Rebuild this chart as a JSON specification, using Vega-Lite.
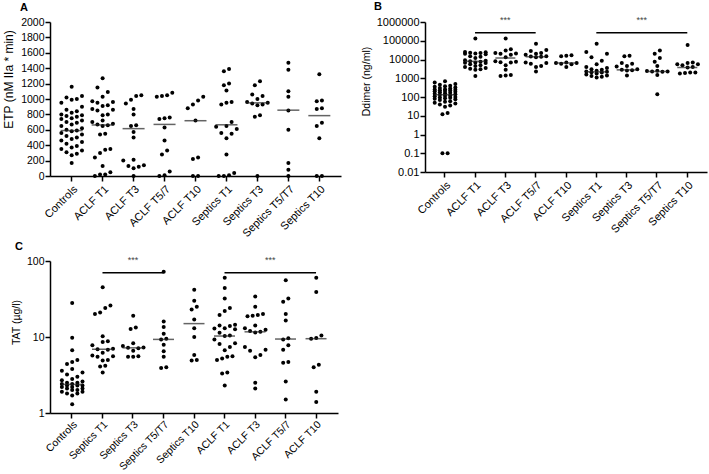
{
"$schema":"https://vega.github.io/schema/vega-lite/v6.json",
"padding":{"left":2,"top":0,"right":4,"bottom":0},
"bounds":"flush",
"columns":2,
"spacing":{"row":85,"column":84},
"config":{
 "font":"Liberation Sans",
 "view":{"stroke":null},
 "axis":{"domainColor":"#000","domainWidth":1.5,"tickColor":"#000","tickWidth":1.5,"tickSize":5,"labelColor":"#000","labelFontSize":11,"titleFontSize":11,"titleFontWeight":"normal","titleColor":"#000","grid":false,"labelPadding":1},
 "axisY":{"labelFontSize":10.5,"labelOverlap":false,"labelFlush":false},
 "axisX":{"labelAngle":-45,"title":null,"labelPadding":2},
 "title":{"fontSize":11,"fontWeight":"bold","anchor":"start","frame":"group","color":"#000","offset":4}
},
"datasets":{
 "a_pts":[
  {"g":"Controls","v":1160},{"g":"Controls","v":1040},{"g":"Controls","v":1020},{"g":"Controls","v":1000},{"g":"Controls","v":990},{"g":"Controls","v":950},{"g":"Controls","v":900},{"g":"Controls","v":860},{"g":"Controls","v":840},{"g":"Controls","v":820},{"g":"Controls","v":800},{"g":"Controls","v":790},{"g":"Controls","v":780},{"g":"Controls","v":770},{"g":"Controls","v":750},{"g":"Controls","v":740},{"g":"Controls","v":720},{"g":"Controls","v":700},{"g":"Controls","v":690},{"g":"Controls","v":670},{"g":"Controls","v":650},{"g":"Controls","v":620},{"g":"Controls","v":600},{"g":"Controls","v":590},{"g":"Controls","v":580},{"g":"Controls","v":560},{"g":"Controls","v":540},{"g":"Controls","v":520},{"g":"Controls","v":500},{"g":"Controls","v":480},{"g":"Controls","v":460},{"g":"Controls","v":440},{"g":"Controls","v":420},{"g":"Controls","v":390},{"g":"Controls","v":370},{"g":"Controls","v":350},{"g":"Controls","v":330},{"g":"Controls","v":310},{"g":"Controls","v":290},{"g":"Controls","v":270},{"g":"Controls","v":170},
  {"g":"ACLF T1","v":1270},{"g":"ACLF T1","v":1150},{"g":"ACLF T1","v":1090},{"g":"ACLF T1","v":1030},{"g":"ACLF T1","v":970},{"g":"ACLF T1","v":960},{"g":"ACLF T1","v":950},{"g":"ACLF T1","v":920},{"g":"ACLF T1","v":910},{"g":"ACLF T1","v":870},{"g":"ACLF T1","v":860},{"g":"ACLF T1","v":850},{"g":"ACLF T1","v":800},{"g":"ACLF T1","v":790},{"g":"ACLF T1","v":720},{"g":"ACLF T1","v":700},{"g":"ACLF T1","v":680},{"g":"ACLF T1","v":670},{"g":"ACLF T1","v":660},{"g":"ACLF T1","v":650},{"g":"ACLF T1","v":550},{"g":"ACLF T1","v":540},{"g":"ACLF T1","v":350},{"g":"ACLF T1","v":340},{"g":"ACLF T1","v":300},{"g":"ACLF T1","v":240},{"g":"ACLF T1","v":130},{"g":"ACLF T1","v":50},{"g":"ACLF T1","v":20},{"g":"ACLF T1","v":20},{"g":"ACLF T1","v":0},
  {"g":"ACLF T3","v":1050},{"g":"ACLF T3","v":1040},{"g":"ACLF T3","v":990},{"g":"ACLF T3","v":940},{"g":"ACLF T3","v":870},{"g":"ACLF T3","v":800},{"g":"ACLF T3","v":660},{"g":"ACLF T3","v":650},{"g":"ACLF T3","v":570},{"g":"ACLF T3","v":500},{"g":"ACLF T3","v":210},{"g":"ACLF T3","v":200},{"g":"ACLF T3","v":140},{"g":"ACLF T3","v":130},{"g":"ACLF T3","v":120},{"g":"ACLF T3","v":100},{"g":"ACLF T3","v":0},
  {"g":"ACLF T5/7","v":1080},{"g":"ACLF T5/7","v":1050},{"g":"ACLF T5/7","v":1040},{"g":"ACLF T5/7","v":1030},{"g":"ACLF T5/7","v":760},{"g":"ACLF T5/7","v":750},{"g":"ACLF T5/7","v":740},{"g":"ACLF T5/7","v":630},{"g":"ACLF T5/7","v":460},{"g":"ACLF T5/7","v":330},{"g":"ACLF T5/7","v":280},{"g":"ACLF T5/7","v":60},{"g":"ACLF T5/7","v":10},{"g":"ACLF T5/7","v":0},
  {"g":"ACLF T10","v":1030},{"g":"ACLF T10","v":980},{"g":"ACLF T10","v":930},{"g":"ACLF T10","v":880},{"g":"ACLF T10","v":720},{"g":"ACLF T10","v":240},{"g":"ACLF T10","v":220},{"g":"ACLF T10","v":0},{"g":"ACLF T10","v":0},
  {"g":"Septics T1","v":1390},{"g":"Septics T1","v":1360},{"g":"Septics T1","v":1200},{"g":"Septics T1","v":1180},{"g":"Septics T1","v":1110},{"g":"Septics T1","v":960},{"g":"Septics T1","v":950},{"g":"Septics T1","v":930},{"g":"Septics T1","v":700},{"g":"Septics T1","v":650},{"g":"Septics T1","v":640},{"g":"Septics T1","v":610},{"g":"Septics T1","v":560},{"g":"Septics T1","v":550},{"g":"Septics T1","v":490},{"g":"Septics T1","v":280},{"g":"Septics T1","v":40},{"g":"Septics T1","v":10},{"g":"Septics T1","v":0},{"g":"Septics T1","v":0},
  {"g":"Septics T3","v":1230},{"g":"Septics T3","v":1180},{"g":"Septics T3","v":1060},{"g":"Septics T3","v":1040},{"g":"Septics T3","v":1000},{"g":"Septics T3","v":960},{"g":"Septics T3","v":950},{"g":"Septics T3","v":940},{"g":"Septics T3","v":930},{"g":"Septics T3","v":920},{"g":"Septics T3","v":790},{"g":"Septics T3","v":770},{"g":"Septics T3","v":0},
  {"g":"Septics T5/T7","v":1470},{"g":"Septics T5/T7","v":1380},{"g":"Septics T5/T7","v":1100},{"g":"Septics T5/T7","v":1030},{"g":"Septics T5/T7","v":850},{"g":"Septics T5/T7","v":600},{"g":"Septics T5/T7","v":170},{"g":"Septics T5/T7","v":80},{"g":"Septics T5/T7","v":0},
  {"g":"Septics T10","v":1320},{"g":"Septics T10","v":980},{"g":"Septics T10","v":970},{"g":"Septics T10","v":880},{"g":"Septics T10","v":870},{"g":"Septics T10","v":690},{"g":"Septics T10","v":650},{"g":"Septics T10","v":490},{"g":"Septics T10","v":0},{"g":"Septics T10","v":0}
 ],
 "a_med":[{"g":"Controls","m":590},{"g":"ACLF T1","m":663},{"g":"ACLF T3","m":615},{"g":"ACLF T5/7","m":670},{"g":"ACLF T10","m":718},{"g":"Septics T1","m":665},{"g":"Septics T3","m":950},{"g":"Septics T5/T7","m":855},{"g":"Septics T10","m":784}],
 "b_pts":[
  {"g":"Controls","v":700},{"g":"Controls","v":600},{"g":"Controls","v":500},{"g":"Controls","v":450},{"g":"Controls","v":400},{"g":"Controls","v":380},{"g":"Controls","v":350},{"g":"Controls","v":320},{"g":"Controls","v":300},{"g":"Controls","v":280},{"g":"Controls","v":260},{"g":"Controls","v":250},{"g":"Controls","v":240},{"g":"Controls","v":230},{"g":"Controls","v":220},{"g":"Controls","v":210},{"g":"Controls","v":200},{"g":"Controls","v":190},{"g":"Controls","v":180},{"g":"Controls","v":170},{"g":"Controls","v":160},{"g":"Controls","v":150},{"g":"Controls","v":140},{"g":"Controls","v":130},{"g":"Controls","v":120},{"g":"Controls","v":115},{"g":"Controls","v":110},{"g":"Controls","v":100},{"g":"Controls","v":95},{"g":"Controls","v":90},{"g":"Controls","v":85},{"g":"Controls","v":80},{"g":"Controls","v":75},{"g":"Controls","v":70},{"g":"Controls","v":60},{"g":"Controls","v":55},{"g":"Controls","v":50},{"g":"Controls","v":45},{"g":"Controls","v":40},{"g":"Controls","v":35},{"g":"Controls","v":30},{"g":"Controls","v":14},{"g":"Controls","v":12},{"g":"Controls","v":0.1},{"g":"Controls","v":0.1},
  {"g":"ACLF T1","v":130000},{"g":"ACLF T1","v":25000},{"g":"ACLF T1","v":24000},{"g":"ACLF T1","v":23000},{"g":"ACLF T1","v":22000},{"g":"ACLF T1","v":21000},{"g":"ACLF T1","v":20000},{"g":"ACLF T1","v":19000},{"g":"ACLF T1","v":15000},{"g":"ACLF T1","v":14000},{"g":"ACLF T1","v":12000},{"g":"ACLF T1","v":9000},{"g":"ACLF T1","v":8500},{"g":"ACLF T1","v":8000},{"g":"ACLF T1","v":7500},{"g":"ACLF T1","v":7000},{"g":"ACLF T1","v":6800},{"g":"ACLF T1","v":6500},{"g":"ACLF T1","v":5500},{"g":"ACLF T1","v":5000},{"g":"ACLF T1","v":4500},{"g":"ACLF T1","v":4000},{"g":"ACLF T1","v":3500},{"g":"ACLF T1","v":3200},{"g":"ACLF T1","v":3000},{"g":"ACLF T1","v":2800},{"g":"ACLF T1","v":1300},
  {"g":"ACLF T3","v":130000},{"g":"ACLF T3","v":35000},{"g":"ACLF T3","v":30000},{"g":"ACLF T3","v":22000},{"g":"ACLF T3","v":21000},{"g":"ACLF T3","v":20000},{"g":"ACLF T3","v":18000},{"g":"ACLF T3","v":13000},{"g":"ACLF T3","v":8000},{"g":"ACLF T3","v":7500},{"g":"ACLF T3","v":7200},{"g":"ACLF T3","v":7000},{"g":"ACLF T3","v":5000},{"g":"ACLF T3","v":2800},{"g":"ACLF T3","v":1500},{"g":"ACLF T3","v":1400},{"g":"ACLF T3","v":1300},
  {"g":"ACLF T5/7","v":70000},{"g":"ACLF T5/7","v":32000},{"g":"ACLF T5/7","v":28000},{"g":"ACLF T5/7","v":22000},{"g":"ACLF T5/7","v":20000},{"g":"ACLF T5/7","v":18000},{"g":"ACLF T5/7","v":15000},{"g":"ACLF T5/7","v":14500},{"g":"ACLF T5/7","v":14000},{"g":"ACLF T5/7","v":13000},{"g":"ACLF T5/7","v":7000},{"g":"ACLF T5/7","v":6500},{"g":"ACLF T5/7","v":6000},{"g":"ACLF T5/7","v":4500},{"g":"ACLF T5/7","v":4000},{"g":"ACLF T5/7","v":2300},
  {"g":"ACLF T10","v":17000},{"g":"ACLF T10","v":16000},{"g":"ACLF T10","v":15000},{"g":"ACLF T10","v":7000},{"g":"ACLF T10","v":6500},{"g":"ACLF T10","v":6500},{"g":"ACLF T10","v":6000},{"g":"ACLF T10","v":5500},{"g":"ACLF T10","v":4000},
  {"g":"Septics T1","v":70000},{"g":"Septics T1","v":25000},{"g":"Septics T1","v":20000},{"g":"Septics T1","v":13000},{"g":"Septics T1","v":8500},{"g":"Septics T1","v":5500},{"g":"Septics T1","v":4000},{"g":"Septics T1","v":3500},{"g":"Septics T1","v":3000},{"g":"Septics T1","v":2800},{"g":"Septics T1","v":2500},{"g":"Septics T1","v":2300},{"g":"Septics T1","v":2200},{"g":"Septics T1","v":2100},{"g":"Septics T1","v":2000},{"g":"Septics T1","v":1800},{"g":"Septics T1","v":1600},{"g":"Septics T1","v":1400},{"g":"Septics T1","v":1300},{"g":"Septics T1","v":1200},{"g":"Septics T1","v":1100},
  {"g":"Septics T3","v":16000},{"g":"Septics T3","v":15000},{"g":"Septics T3","v":6500},{"g":"Septics T3","v":6000},{"g":"Septics T3","v":4500},{"g":"Septics T3","v":4200},{"g":"Septics T3","v":3000},{"g":"Septics T3","v":2800},{"g":"Septics T3","v":2700},{"g":"Septics T3","v":2600},{"g":"Septics T3","v":1400},
  {"g":"Septics T5/T7","v":30000},{"g":"Septics T5/T7","v":20000},{"g":"Septics T5/T7","v":12000},{"g":"Septics T5/T7","v":7500},{"g":"Septics T5/T7","v":4500},{"g":"Septics T5/T7","v":2500},{"g":"Septics T5/T7","v":2400},{"g":"Septics T5/T7","v":2300},{"g":"Septics T5/T7","v":2300},{"g":"Septics T5/T7","v":2200},{"g":"Septics T5/T7","v":1500},{"g":"Septics T5/T7","v":140},
  {"g":"Septics T10","v":60000},{"g":"Septics T10","v":7000},{"g":"Septics T10","v":6500},{"g":"Septics T10","v":5500},{"g":"Septics T10","v":5500},{"g":"Septics T10","v":5000},{"g":"Septics T10","v":4000},{"g":"Septics T10","v":3800},{"g":"Septics T10","v":2000},{"g":"Septics T10","v":2000},{"g":"Septics T10","v":1900},{"g":"Septics T10","v":1800}
 ],
 "b_med":[{"g":"Controls","m":133},{"g":"ACLF T1","m":8000},{"g":"ACLF T3","m":12000},{"g":"ACLF T5/7","m":14000},{"g":"ACLF T10","m":6500},{"g":"Septics T1","m":2200},{"g":"Septics T3","m":2800},{"g":"Septics T5/T7","m":2300},{"g":"Septics T10","m":3800}],
 "b_sig":[{"from":"ACLF T1","to":"ACLF T5/7","p":270000,"lab":"ACLF T3"},{"from":"Septics T1","to":"Septics T10","p":270000,"lab":"Septics T3"}],
 "c_pts":[
  {"g":"Controls","v":28},{"g":"Controls","v":9.8},{"g":"Controls","v":6.7},{"g":"Controls","v":5.0},{"g":"Controls","v":4.7},{"g":"Controls","v":4.4},{"g":"Controls","v":3.8},{"g":"Controls","v":3.6},{"g":"Controls","v":3.4},{"g":"Controls","v":3.2},{"g":"Controls","v":3.0},{"g":"Controls","v":2.8},{"g":"Controls","v":2.7},{"g":"Controls","v":2.6},{"g":"Controls","v":2.5},{"g":"Controls","v":2.5},{"g":"Controls","v":2.4},{"g":"Controls","v":2.4},{"g":"Controls","v":2.3},{"g":"Controls","v":2.3},{"g":"Controls","v":2.3},{"g":"Controls","v":2.2},{"g":"Controls","v":2.2},{"g":"Controls","v":2.1},{"g":"Controls","v":2.1},{"g":"Controls","v":2.0},{"g":"Controls","v":2.0},{"g":"Controls","v":1.9},{"g":"Controls","v":1.9},{"g":"Controls","v":1.8},{"g":"Controls","v":1.8},{"g":"Controls","v":1.7},{"g":"Controls","v":1.3},
  {"g":"Septics T1","v":45},{"g":"Septics T1","v":26},{"g":"Septics T1","v":24},{"g":"Septics T1","v":21},{"g":"Septics T1","v":20},{"g":"Septics T1","v":10.2},{"g":"Septics T1","v":8.8},{"g":"Septics T1","v":8.6},{"g":"Septics T1","v":7.8},{"g":"Septics T1","v":7.0},{"g":"Septics T1","v":6.9},{"g":"Septics T1","v":6.8},{"g":"Septics T1","v":6.2},{"g":"Septics T1","v":5.7},{"g":"Septics T1","v":5.6},{"g":"Septics T1","v":5.5},{"g":"Septics T1","v":5.0},{"g":"Septics T1","v":4.9},{"g":"Septics T1","v":4.2},{"g":"Septics T1","v":4.1},{"g":"Septics T1","v":3.4},
  {"g":"Septics T3","v":19},{"g":"Septics T3","v":13.3},{"g":"Septics T3","v":12.7},{"g":"Septics T3","v":8.3},{"g":"Septics T3","v":7.6},{"g":"Septics T3","v":7.3},{"g":"Septics T3","v":7.2},{"g":"Septics T3","v":7.1},{"g":"Septics T3","v":6.6},{"g":"Septics T3","v":5.6},{"g":"Septics T3","v":5.5},{"g":"Septics T3","v":5.5},
  {"g":"Septics T5/T7","v":72},{"g":"Septics T5/T7","v":16},{"g":"Septics T5/T7","v":13.5},{"g":"Septics T5/T7","v":11},{"g":"Septics T5/T7","v":9.5},{"g":"Septics T5/T7","v":9.3},{"g":"Septics T5/T7","v":7.9},{"g":"Septics T5/T7","v":6.5},{"g":"Septics T5/T7","v":5.5},{"g":"Septics T5/T7","v":4.0},{"g":"Septics T5/T7","v":3.9},
  {"g":"Septics T10","v":42},{"g":"Septics T10","v":30},{"g":"Septics T10","v":25},{"g":"Septics T10","v":23},{"g":"Septics T10","v":17},{"g":"Septics T10","v":13},{"g":"Septics T10","v":10},{"g":"Septics T10","v":5.8},{"g":"Septics T10","v":5.0},{"g":"Septics T10","v":4.9},
  {"g":"ACLF T1","v":60},{"g":"ACLF T1","v":44},{"g":"ACLF T1","v":32},{"g":"ACLF T1","v":24},{"g":"ACLF T1","v":22},{"g":"ACLF T1","v":19.5},{"g":"ACLF T1","v":14.5},{"g":"ACLF T1","v":14.2},{"g":"ACLF T1","v":14},{"g":"ACLF T1","v":13},{"g":"ACLF T1","v":12.9},{"g":"ACLF T1","v":12.6},{"g":"ACLF T1","v":11.4},{"g":"ACLF T1","v":10.5},{"g":"ACLF T1","v":10.3},{"g":"ACLF T1","v":9.3},{"g":"ACLF T1","v":8.3},{"g":"ACLF T1","v":8.1},{"g":"ACLF T1","v":7.4},{"g":"ACLF T1","v":6.7},{"g":"ACLF T1","v":5.6},{"g":"ACLF T1","v":5.5},{"g":"ACLF T1","v":5.2},{"g":"ACLF T1","v":5.0},{"g":"ACLF T1","v":3.4},{"g":"ACLF T1","v":3.3},{"g":"ACLF T1","v":2.3},
  {"g":"ACLF T3","v":34},{"g":"ACLF T3","v":25},{"g":"ACLF T3","v":20},{"g":"ACLF T3","v":19.5},{"g":"ACLF T3","v":19},{"g":"ACLF T3","v":18.7},{"g":"ACLF T3","v":14.2},{"g":"ACLF T3","v":13},{"g":"ACLF T3","v":12.5},{"g":"ACLF T3","v":12},{"g":"ACLF T3","v":11.7},{"g":"ACLF T3","v":11.5},{"g":"ACLF T3","v":7.4},{"g":"ACLF T3","v":6.8},{"g":"ACLF T3","v":6.6},{"g":"ACLF T3","v":5.8},{"g":"ACLF T3","v":5.4},{"g":"ACLF T3","v":2.5},{"g":"ACLF T3","v":2.1},
  {"g":"ACLF T5/7","v":56},{"g":"ACLF T5/7","v":32},{"g":"ACLF T5/7","v":29},{"g":"ACLF T5/7","v":20},{"g":"ACLF T5/7","v":16.5},{"g":"ACLF T5/7","v":9.6},{"g":"ACLF T5/7","v":9.3},{"g":"ACLF T5/7","v":7.8},{"g":"ACLF T5/7","v":6.8},{"g":"ACLF T5/7","v":4.7},{"g":"ACLF T5/7","v":4.6},{"g":"ACLF T5/7","v":2.6},{"g":"ACLF T5/7","v":1.5},
  {"g":"ACLF T10","v":60},{"g":"ACLF T10","v":39},{"g":"ACLF T10","v":10.5},{"g":"ACLF T10","v":9.7},{"g":"ACLF T10","v":9.5},{"g":"ACLF T10","v":4.3},{"g":"ACLF T10","v":4.0},{"g":"ACLF T10","v":1.9},{"g":"ACLF T10","v":1.4}
 ],
 "c_med":[{"g":"Controls","m":2.38},{"g":"Septics T1","m":6.9},{"g":"Septics T3","m":7.2},{"g":"Septics T5/T7","m":9.3},{"g":"Septics T10","m":15},{"g":"ACLF T1","m":10.3},{"g":"ACLF T3","m":11.7},{"g":"ACLF T5/7","m":9.4},{"g":"ACLF T10","m":9.5}],
 "c_sig":[{"from":"Septics T1","to":"Septics T5/T7","p":70,"lab":"Septics T3"},{"from":"ACLF T1","to":"ACLF T10","p":70,"lab":"ACLF T3"}]
},
"concat":[
 {
  "width":291,"height":154,
  "title":{"text":"A","dx":-30},
  "layer":[
   {"data":{"name":"a_pts"},
    "transform":[
     {"calculate":"datum.v","as":"lv"},
     {"window":[{"op":"lag","field":"lv","as":"prev"}],"groupby":["g"],"sort":[{"field":"lv","order":"ascending"}]},
     {"calculate":"(datum.prev == null || datum.lv - datum.prev > 65) ? 1 : 0","as":"brk"},
     {"window":[{"op":"sum","field":"brk","as":"cl"}],"groupby":["g"],"sort":[{"field":"lv","order":"ascending"}],"frame":[null,0],"ignorePeers":true},
     {"window":[{"op":"row_number","as":"k"}],"groupby":["g","cl"],"sort":[{"field":"lv","order":"ascending"}]},
     {"joinaggregate":[{"op":"count","as":"n"}],"groupby":["g","cl"]},
     {"calculate":"min(datum.n, 5)","as":"mm"},
     {"calculate":"(datum.k - 1) % datum.mm","as":"kk"},
     {"calculate":"datum.mm < 5 ? datum.kk - (datum.mm - 1) / 2 : ((datum.kk + 1) % 2 == 0 ? 1 : -1) * floor((datum.kk + 1) / 2)","as":"jit"}
    ],
    "mark":{"type":"point","filled":true,"size":16,"color":"#000","opacity":1},
    "encoding":{
     "x":{"field":"g","type":"nominal","scale":{"type":"band","domain":["Controls","ACLF T1","ACLF T3","ACLF T5/7","ACLF T10","Septics T1","Septics T3","Septics T5/T7","Septics T10"],"paddingInner":0,"paddingOuter":0.2},"axis":{"title":null}},
     "xOffset":{"field":"jit","type":"quantitative","scale":{"domain":[-3,3],"zero":false,"nice":false}},
     "y":{"field":"v","type":"quantitative","scale":{"domain":[0,2000],"nice":false},"axis":{"tickCount":10,"format":"d","labelOverlap":false,"labelFlush":false,"labelFontSize":10.5,"title":"ETP (nM IIa * min)","titleFontSize":12,"titlePadding":5,"titleY":57}}
    }},
   {"data":{"name":"a_med"},
    "mark":{"type":"tick","size":22,"thickness":1.5,"color":"#222"},
    "encoding":{"x":{"field":"g","type":"nominal"},"y":{"field":"m","type":"quantitative","axis":{"tickCount":10,"format":"d","labelOverlap":false,"labelFlush":false,"labelFontSize":10.5,"title":"ETP (nM IIa * min)","titleFontSize":12,"titlePadding":5,"titleY":57}}}}
  ]
 },
 {
  "width":282,"height":150,
  "title":{"text":"B","dx":-51},
  "layer":[
   {"data":{"name":"b_pts"},
    "transform":[
     {"calculate":"log(datum.v) / LN10","as":"lv"},
     {"window":[{"op":"lag","field":"lv","as":"prev"}],"groupby":["g"],"sort":[{"field":"lv","order":"ascending"}]},
     {"calculate":"(datum.prev == null || datum.lv - datum.prev > 0.22) ? 1 : 0","as":"brk"},
     {"window":[{"op":"sum","field":"brk","as":"cl"}],"groupby":["g"],"sort":[{"field":"lv","order":"ascending"}],"frame":[null,0],"ignorePeers":true},
     {"window":[{"op":"row_number","as":"k"}],"groupby":["g","cl"],"sort":[{"field":"lv","order":"ascending"}]},
     {"joinaggregate":[{"op":"count","as":"n"}],"groupby":["g","cl"]},
     {"calculate":"min(datum.n, 5)","as":"mm"},
     {"calculate":"(datum.k - 1) % datum.mm","as":"kk"},
     {"calculate":"datum.mm < 5 ? datum.kk - (datum.mm - 1) / 2 : ((datum.kk + 1) % 2 == 0 ? 1 : -1) * floor((datum.kk + 1) / 2)","as":"jit"}
    ],
    "mark":{"type":"point","filled":true,"size":16,"color":"#000","opacity":1},
    "encoding":{
     "x":{"field":"g","type":"nominal","scale":{"type":"band","domain":["Controls","ACLF T1","ACLF T3","ACLF T5/7","ACLF T10","Septics T1","Septics T3","Septics T5/T7","Septics T10"],"paddingInner":0,"paddingOuter":0.15},"axis":{"title":null}},
     "xOffset":{"field":"jit","type":"quantitative","scale":{"domain":[-3,3],"zero":false,"nice":false}},
     "y":{"field":"v","type":"quantitative","scale":{"type":"log","domain":[0.01,1000000],"nice":false},"axis":{"values":[0.01,0.1,1,10,100,1000,10000,100000,1000000],"labelExpr":"datum.value < 1 ? format(datum.value, '.2~f') : format(datum.value, 'd')","labelOverlap":false,"labelFlush":false,"labelFontSize":11,"title":"Ddimer (ng/ml)","titleFontSize":10.5,"titlePadding":5,"titleY":59}}
    }},
   {"data":{"name":"b_med"},
    "mark":{"type":"tick","size":20,"thickness":1.5,"color":"#222"},
    "encoding":{"x":{"field":"g","type":"nominal"},"y":{"field":"m","type":"quantitative"}}},
   {"data":{"name":"b_sig"},
    "mark":{"type":"rule","strokeWidth":1.5,"color":"#000"},
    "encoding":{"x":{"field":"from","type":"nominal"},"x2":{"field":"to"},"y":{"field":"p","type":"quantitative"}}},
   {"data":{"name":"b_sig"},
    "transform":[{"filter":"datum.lab == 'ACLF T3'"}],
    "mark":{"type":"text","text":"***","dy":-13,"fontSize":9,"color":"#444"},
    "encoding":{"x":{"field":"lab","type":"nominal"},"y":{"field":"p","type":"quantitative"}}},
   {"data":{"name":"b_sig"},
    "transform":[{"filter":"datum.lab == 'Septics T3'"}],
    "mark":{"type":"text","text":"***","dy":-13,"fontSize":9,"color":"#444"},
    "encoding":{"x":{"field":"lab","type":"nominal","bandPosition":1},"y":{"field":"p","type":"quantitative"}}}
  ]
 },
 {
  "width":288,"height":152,
  "title":{"text":"C","dx":-35},
  "layer":[
   {"data":{"name":"c_pts"},
    "transform":[
     {"calculate":"log(datum.v) / LN10","as":"lv"},
     {"window":[{"op":"lag","field":"lv","as":"prev"}],"groupby":["g"],"sort":[{"field":"lv","order":"ascending"}]},
     {"calculate":"(datum.prev == null || datum.lv - datum.prev > 0.06) ? 1 : 0","as":"brk"},
     {"window":[{"op":"sum","field":"brk","as":"cl"}],"groupby":["g"],"sort":[{"field":"lv","order":"ascending"}],"frame":[null,0],"ignorePeers":true},
     {"window":[{"op":"row_number","as":"k"}],"groupby":["g","cl"],"sort":[{"field":"lv","order":"ascending"}]},
     {"joinaggregate":[{"op":"count","as":"n"}],"groupby":["g","cl"]},
     {"calculate":"min(datum.n, 5)","as":"mm"},
     {"calculate":"(datum.k - 1) % datum.mm","as":"kk"},
     {"calculate":"datum.mm < 5 ? datum.kk - (datum.mm - 1) / 2 : ((datum.kk + 1) % 2 == 0 ? 1 : -1) * floor((datum.kk + 1) / 2)","as":"jit"}
    ],
    "mark":{"type":"point","filled":true,"size":16,"color":"#000","opacity":1},
    "encoding":{
     "x":{"field":"g","type":"nominal","scale":{"type":"band","domain":["Controls","Septics T1","Septics T3","Septics T5/T7","Septics T10","ACLF T1","ACLF T3","ACLF T5/7","ACLF T10"],"paddingInner":0,"paddingOuter":0.22},"axis":{"title":null,"labelFontSize":10.5,"labelPadding":1}},
     "xOffset":{"field":"jit","type":"quantitative","scale":{"domain":[-3,3],"zero":false,"nice":false}},
     "y":{"field":"v","type":"quantitative","scale":{"type":"log","domain":[1,100],"nice":false},"axis":{"values":[1,10,100],"format":"d","labelOverlap":false,"labelFlush":false,"title":"TAT (µg/l)","titleFontSize":10.5,"titlePadding":5,"titleY":61}}
    }},
   {"data":{"name":"c_med"},
    "mark":{"type":"tick","size":21,"thickness":1.5,"color":"#222"},
    "encoding":{"x":{"field":"g","type":"nominal"},"y":{"field":"m","type":"quantitative"}}},
   {"data":{"name":"c_sig"},
    "mark":{"type":"rule","strokeWidth":1.5,"color":"#000"},
    "encoding":{"x":{"field":"from","type":"nominal"},"x2":{"field":"to"},"y":{"field":"p","type":"quantitative"}}},
   {"data":{"name":"c_sig"},
    "transform":[{"filter":"datum.lab == 'Septics T3'"}],
    "mark":{"type":"text","text":"***","dy":-13,"fontSize":9,"color":"#444"},
    "encoding":{"x":{"field":"lab","type":"nominal"},"y":{"field":"p","type":"quantitative"}}},
   {"data":{"name":"c_sig"},
    "transform":[{"filter":"datum.lab == 'ACLF T3'"}],
    "mark":{"type":"text","text":"***","dy":-13,"fontSize":9,"color":"#444"},
    "encoding":{"x":{"field":"lab","type":"nominal","bandPosition":1},"y":{"field":"p","type":"quantitative"}}}
  ]
 }
]
}
